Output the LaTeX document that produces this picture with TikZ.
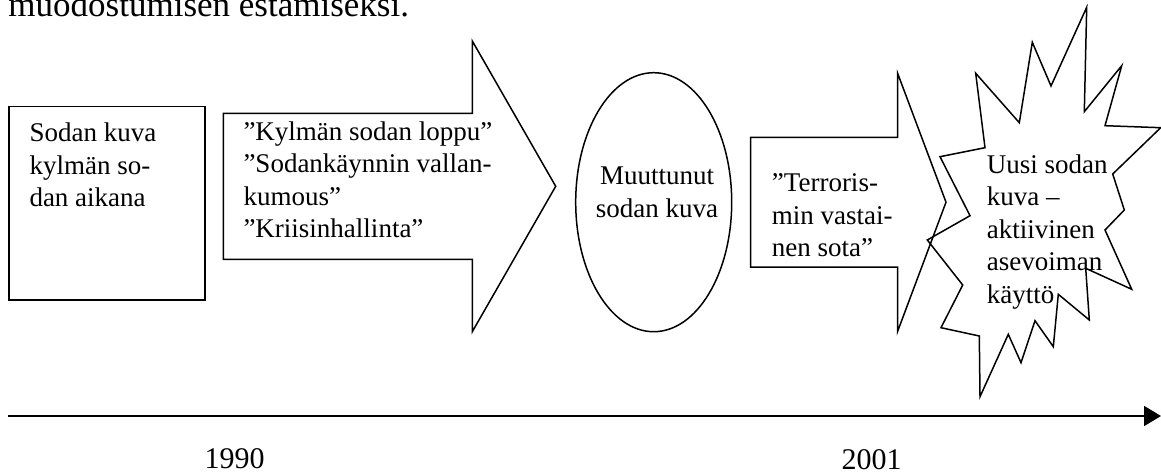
\documentclass[tikz,border=0pt]{standalone}
\usepackage{fontspec}
\setmainfont{Liberation Serif}
\usetikzlibrary{shapes.geometric}
\usetikzlibrary{arrows.meta}
\newcommand{\rivit}[2][l]{\begin{tabular}[t]{@{}#1@{}}#2\end{tabular}}
\tikzstyle{boxline}=[draw,line width=1.5pt]
\tikzstyle{cold}=[boxline,anchor=north west,inner sep=0pt,minimum width=196pt,minimum height=193.6pt]
\tikzstyle{oval}=[ellipse,boxline,inner sep=0pt,minimum width=156pt,minimum height=259pt]
\tikzstyle{txt}=[anchor=base west,inner sep=0pt,font=\fontsize{27}{32.5}\selectfont]
\tikzstyle{year}=[anchor=base,inner sep=0pt,font=\fontsize{30}{36}\selectfont]
\tikzstyle{timeline}=[-{Triangle[length=17pt,width=20pt]},line width=1.8pt]

\begin{document}
\begin{tikzpicture}[x=1pt,y=-1pt]
\useasboundingbox (0,0) rectangle (1161,473);
\clip (0,0) rectangle (1161,473);
\node[anchor=base west,inner sep=0pt,font=\fontsize{35}{42}\selectfont] (prev) at (8.3,17) {muodostumisen estämiseksi.};
% laatikko ja nuolet
\node[cold] (box) at (8.3,105.7) {};
\node[txt] (boxtext) at (29.3,141.7) {\rivit{Sodan kuva\\kylmän so-\\dan aikana}};
\draw[boxline] (223.3,113.3) -- (472.3,113.3) -- (472.3,41) -- (555.7,186.3)
  -- (472.3,331.7) -- (472.3,259.3) -- (223.3,259.3) -- cycle;
\node[txt] (arrowtext) at (243.3,140.5) {\rivit{”Kylmän sodan loppu”\\”Sodankäynnin vallan-\\kumous”\\”Kriisinhallinta”}};
\node[oval] (oval) at (653.7,202.2) {};
\node[txt,anchor=base] (ovaltext) at (657,185) {\rivit[c]{Muuttunut\\sodan kuva}};
\draw[boxline] (750.7,137.5) -- (897.5,137.5) -- (897.5,73) -- (946,202.2)
  -- (897.5,331.7) -- (897.5,267) -- (750.7,267) -- cycle;
\node[txt] (terrortext) at (771.7,191.7) {\rivit{”Terroris-\\min vastai-\\nen sota”}};
% tähti
\draw[boxline] (1086.7,7.3) -- (1084.3,111.7) -- (1121.7,65.7) -- (1105,125.7)
  -- (1160.7,127.7) -- (1112.7,174) -- (1124.3,210) -- (1105,230)
  -- (1131.7,289.3) -- (1085.7,268.3) -- (1089.3,320) -- (1058.3,294.3)
  -- (1053.3,346.7) -- (1035,320.7) -- (1021,362.7) -- (1008.3,334.3)
  -- (980,396.7) -- (979.3,336) -- (941,327.7) -- (962.7,285)
  -- (927.3,240) -- (970,215.7) -- (940,156.7) -- (985,147.7)
  -- (975.7,73.3) -- (1019.3,122.7) -- (1032.3,42.3) -- (1051,86) -- cycle;
\node[txt] (startext) at (986.7,173.3) {\rivit{Uusi sodan\\kuva –\\aktiivinen\\asevoiman\\käyttö}};
% aikajana
\coordinate (t0) at (8.3,416);
\coordinate (t1) at (1161,416);
\draw[timeline] (t0) -- (t1);
\node[year] (y1990) at (234.5,468.5) {1990};
\node[year] (y2001) at (871.7,469) {2001};
\end{tikzpicture}
\end{document}
